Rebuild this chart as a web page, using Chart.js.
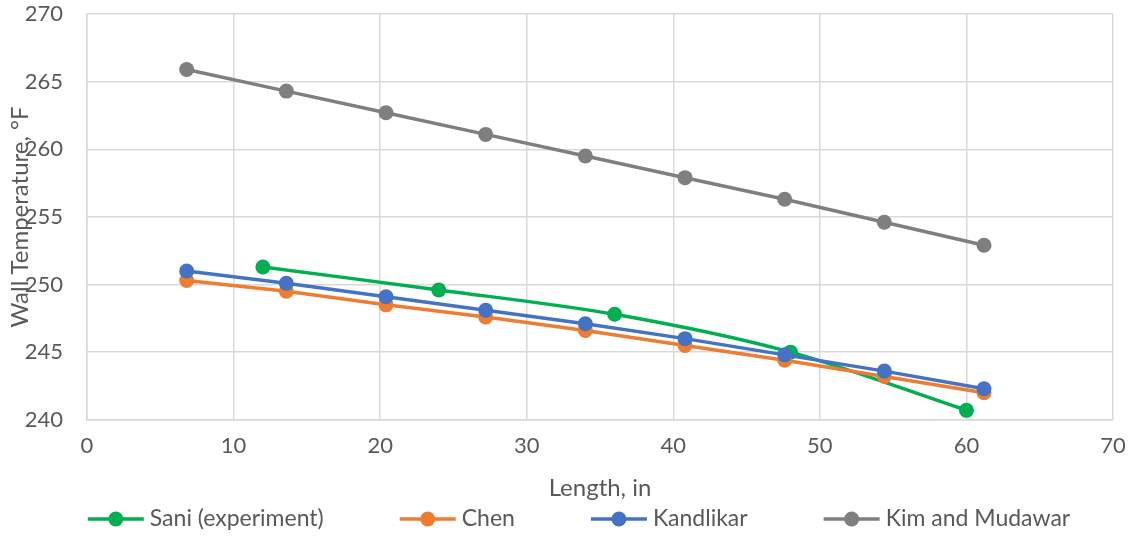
<!DOCTYPE html>
<html lang="en">
<head>
  <meta charset="UTF-8">
  <title>Wall Temperature vs Length</title>
  <script src="https://cdn.jsdelivr.net/npm/chart.js"></script>
  <style>
    body { margin: 0; padding: 0; background: #fff; }
    #wrap { width: 1130px; height: 536px; }
  </style>
</head>
<body>
  <div id="wrap"><canvas id="chart"></canvas></div>
  <script>
    // values
    const saniX = [12, 24, 36, 48, 60];
    const saniY = [251.3, 249.6, 247.8, 245.0, 240.7];
    const modelX = [6.8, 13.6, 20.4, 27.2, 34.0, 40.8, 47.6, 54.4, 61.2];
    const chenY = [250.3, 249.5, 248.5, 247.6, 246.6, 245.5, 244.4, 243.2, 242.0];
    const kandlikarY = [251.0, 250.1, 249.1, 248.1, 247.1, 246.0, 244.8, 243.6, 242.3];
    const kimY = [265.9, 264.3, 262.7, 261.1, 259.5, 257.9, 256.3, 254.6, 252.9];
    const seriesNames = ['Sani (experiment)', 'Chen', 'Kandlikar', 'Kim and Mudawar'];
    const seriesColors = ['#00B050', '#ED7D31', '#4472C4', '#7F7F7F'];

    const pts = (xs, ys) => xs.map((x, i) => ({ x: x, y: ys[i] }));

    const textColor = '#595959';
    const font = "Lato, 'Open Sans', sans-serif";

    function makeSet(i, data, order, tension) {
      return {
        label: seriesNames[i],
        data: data,
        showLine: true,
        borderColor: seriesColors[i],
        backgroundColor: seriesColors[i],
        borderWidth: 3.5,
        pointRadius: 7.5,
        pointHoverRadius: 7.5,
        pointBorderWidth: 0,
        tension: tension,
        order: order
      };
    }

    // Excel-style legend (line with a dot), drawn under the axis title
    const excelLegend = {
      id: 'excelLegend',
      afterDraw(chart) {
        const ctx = chart.ctx;
        const markW = 56, gapText = 6, gapItem = 76, y = 519;
        ctx.save();
        ctx.font = '23px ' + font;
        ctx.textBaseline = 'middle';
        const widths = seriesNames.map(n => markW + gapText + ctx.measureText(n).width);
        const total = widths.reduce((a, b) => a + b, 0) + gapItem * (widths.length - 1);
        let x = chart.width / 2 + 14 - total / 2;
        seriesNames.forEach((name, i) => {
          ctx.strokeStyle = seriesColors[i];
          ctx.fillStyle = seriesColors[i];
          ctx.lineWidth = 3.5;
          ctx.beginPath(); ctx.moveTo(x, y); ctx.lineTo(x + markW, y); ctx.stroke();
          ctx.beginPath(); ctx.arc(x + markW / 2, y, 7.5, 0, Math.PI * 2); ctx.fill();
          ctx.fillStyle = textColor;
          ctx.fillText(name, x + markW + gapText, y);
          x += widths[i] + gapItem;
        });
        ctx.restore();
      }
    };

    new Chart(document.getElementById('chart'), {
      type: 'scatter',
      data: {
        datasets: [
          makeSet(0, pts(saniX, saniY), 2, 0.3),
          makeSet(1, pts(modelX, chenY), 1, 0),
          makeSet(2, pts(modelX, kandlikarY), 0, 0),
          makeSet(3, pts(modelX, kimY), 3, 0)
        ]
      },
      options: {
        responsive: true,
        maintainAspectRatio: false,
        animation: false,
        layout: { padding: { left: 0, right: 17, top: 14, bottom: 33 } },
        plugins: {
          tooltip: { enabled: false },
          legend: { display: false }
        },
        scales: {
          x: {
            type: 'linear',
            min: 0,
            max: 70,
            ticks: { stepSize: 10, color: textColor, font: { family: font, size: 22 }, padding: 13 },
            grid: { color: '#D9D9D9', lineWidth: 1.5, drawTicks: false },
            border: { color: '#D9D9D9', width: 1.5 },
            title: { display: true, text: 'Length, in', color: textColor, font: { family: font, size: 24 }, padding: { top: 2, bottom: 0 } },
            afterFit: s => { s.paddingLeft = 0; s.paddingRight = 0; }
          },
          y: {
            min: 240,
            max: 270,
            ticks: { stepSize: 5, color: textColor, font: { family: font, size: 22 }, padding: 24 },
            grid: { color: '#D9D9D9', lineWidth: 1.5, drawTicks: false },
            border: { color: '#D9D9D9', width: 1.5 },
            title: { display: true, text: 'Wall Temperature, °F', color: textColor, font: { family: font, size: 24 }, padding: { top: 6, bottom: 0 } },
            afterFit: s => { s.width = 87; s.paddingTop = 0; s.paddingBottom = 0; }
          }
        }
      },
      plugins: [excelLegend]
    });
  </script>
</body>
</html>
